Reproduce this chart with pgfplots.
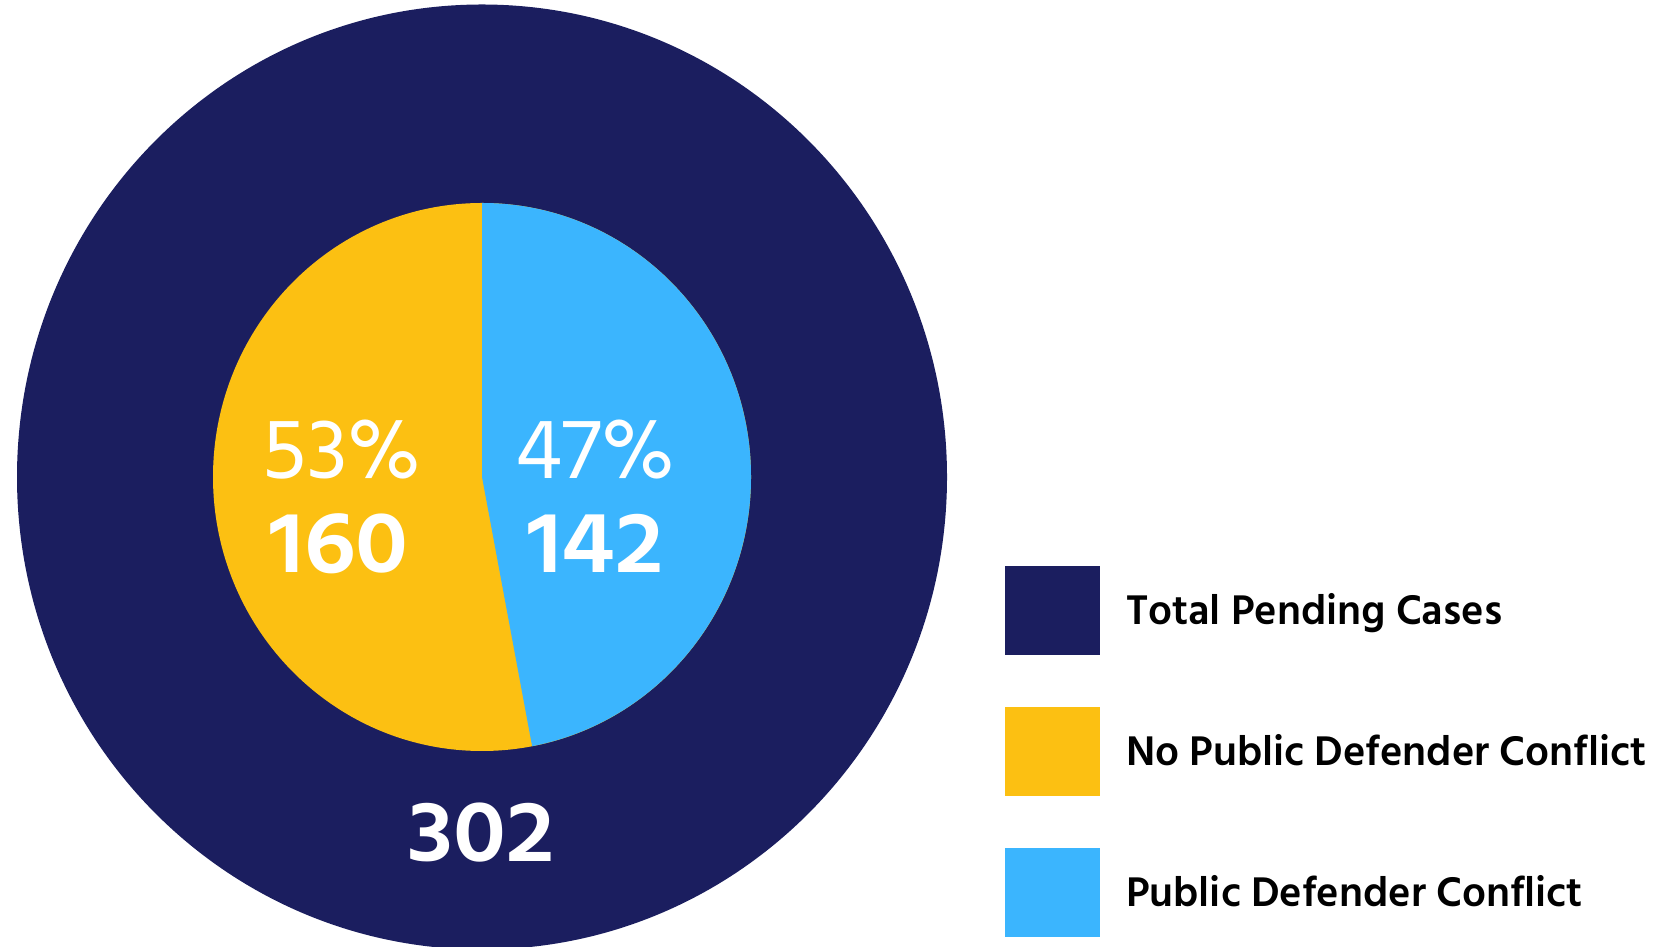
\documentclass[border=0pt]{standalone}
\usepackage{pgfplots}
\pgfplotsset{compat=1.18}
\usepackage{pgfplotstable}
\usepackage{fontspec}
\setmainfont{Hind Siliguri}
\newfontfamily\numfont{Hind Siliguri SemiBold}[FakeStretch=1.1]

\definecolor{navy}{HTML}{1B1E5F}
\definecolor{gold}{HTML}{FCC012}
\definecolor{sky}{HTML}{3BB5FE}

% pending cases by conflict status
\pgfplotstableread{
group value
PD    142
NoPD  160
}\piedata

\begin{document}
\begin{tikzpicture}
\pgfplotstablegetelem{0}{value}\of\piedata \let\vPD\pgfplotsretval
\pgfplotstablegetelem{1}{value}\of\piedata \let\vNo\pgfplotsretval
\pgfmathtruncatemacro\total{\vPD+\vNo}
\pgfmathsetmacro\aPD{90-360*(\vPD/\total)}
\begin{axis}[
    x=1pt, y=1pt,
    xmin=0, xmax=1680, ymin=0, ymax=947,
    disabledatascaling,
    hide axis,
    clip=true,
    legend cell align=left,
    legend image code/.code={\fill[#1] (0pt,-44.5pt) rectangle (95pt,44.5pt);},
    legend style={
        at={(axis description cs:0.59821,0.40264)}, anchor=north west,
        draw=none, fill=none, inner sep=0pt, outer sep=0pt,
        row sep=52pt, column sep=26pt,
        font=\bfseries\fontsize{42.5}{42.5}\selectfont,
        nodes={inner sep=0pt, text height=28.5pt, text depth=0pt},
    },
]
% outer ring: total
\fill[navy] (axis cs:482,470) ellipse [x radius=465, y radius=472.5];
% inner pie
\fill[gold] (axis cs:482,470) ellipse [x radius=269, y radius=274];
\fill[sky] (axis cs:482,470) -- (axis cs:482,744)
    arc [start angle=90, end angle=\aPD, x radius=269, y radius=274] -- cycle;

\node[anchor=base, text=white, font=\fontsize{87}{87}\selectfont] at (axis cs:342,468) {53\%};
\node[anchor=base, text=white, font=\numfont\fontsize{88}{88}\selectfont] at (axis cs:339,374) {\vNo};
\node[anchor=base, text=white, font=\fontsize{87}{87}\selectfont] at (axis cs:595.5,468) {47\%};
\node[anchor=base, text=white, font=\numfont\fontsize{88}{88}\selectfont] at (axis cs:595.5,374) {\vPD};
\node[anchor=base, text=white, font=\numfont\fontsize{88}{88}\selectfont] at (axis cs:481,85) {\total};

\addlegendimage{fill=navy, draw=none}
\addlegendentry{Total Pending Cases}
\addlegendimage{fill=gold, draw=none}
\addlegendentry{No Public Defender Conflict}
\addlegendimage{fill=sky, draw=none}
\addlegendentry{Public Defender Conflict}
\end{axis}
\pgfresetboundingbox
\useasboundingbox (current axis.south west) rectangle (current axis.north east);
\end{tikzpicture}
\end{document}
